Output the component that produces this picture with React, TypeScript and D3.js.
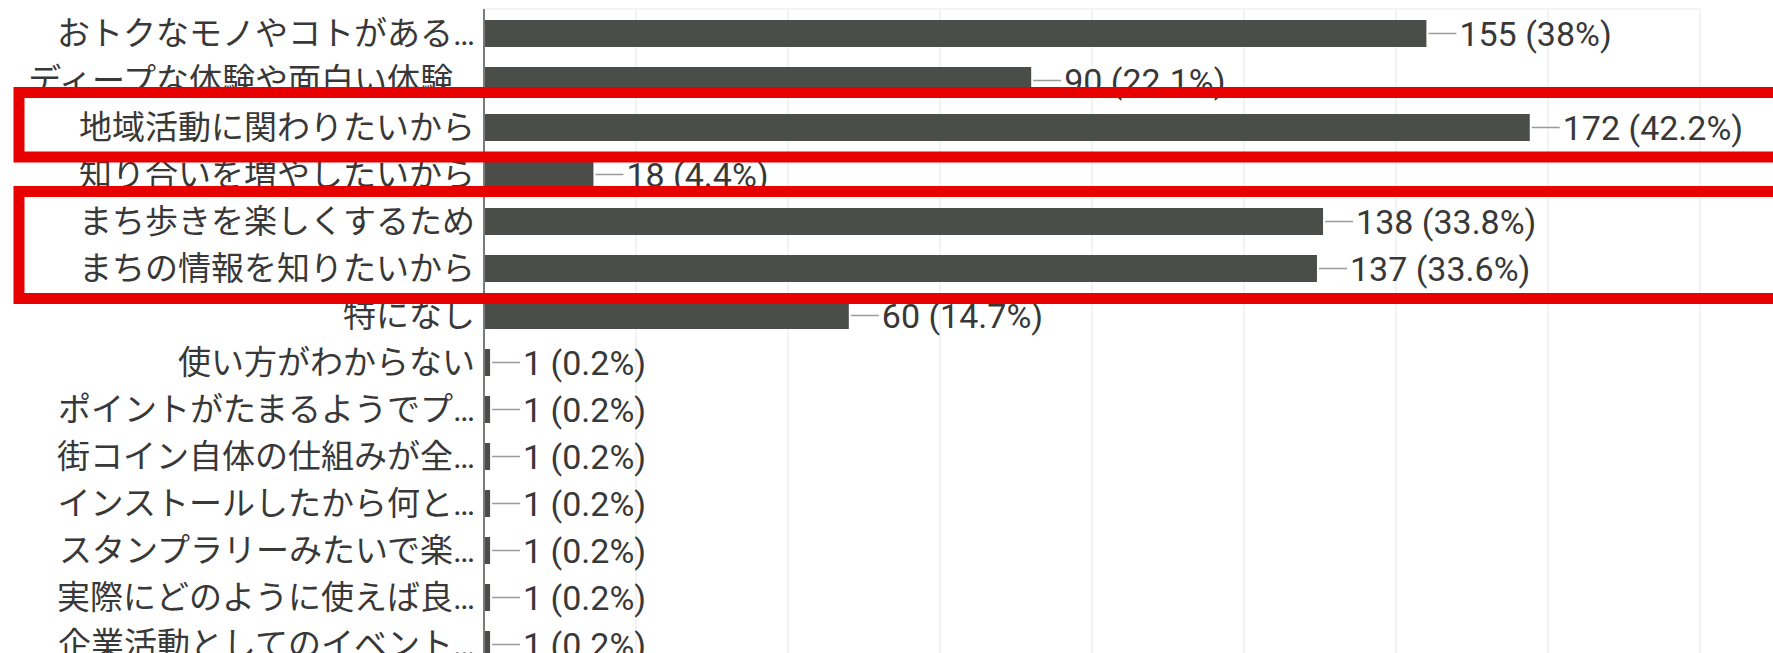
import React from "react";
import * as d3 from "d3";

const categories = [
  "おトクなモノやコトがある…",
  "ディープな体験や面白い体験…",
  "地域活動に関わりたいから",
  "知り合いを増やしたいから",
  "まち歩きを楽しくするため",
  "まちの情報を知りたいから",
  "特になし",
  "使い方がわからない",
  "ポイントがたまるようでプ…",
  "街コイン自体の仕組みが全…",
  "インストールしたから何と…",
  "スタンプラリーみたいで楽…",
  "実際にどのように使えば良…",
  "企業活動としてのイベント…",
];
const values = [155, 90, 172, 18, 138, 137, 60, 1, 1, 1, 1, 1, 1, 1];
const percents = ["38%", "22.1%", "42.2%", "4.4%", "33.8%", "33.6%", "14.7%", "0.2%", "0.2%", "0.2%", "0.2%", "0.2%", "0.2%", "0.2%"];
const gridTicks = [25, 50, 75, 100, 125, 150, 175, 200];
// highlighted row ranges (first, last index)
const highlightFirst = [2, 4];
const highlightLast = [2, 5];

const W = 1773;
const H = 653;
const axisX = 484;
const top = 10;
const step = 47;

export default function App() {
  const x = d3.scaleLinear().domain([0, 200]).range([axisX, axisX + 200 * 6.08]);
  const y = d3
    .scaleBand<string>()
    .domain(categories)
    .range([top, top + categories.length * step])
    .paddingInner(0.4255)
    .paddingOuter(0.2128);
  const bw = y.bandwidth();
  const cy = (i: number) => (y(categories[i]) as number) + bw / 2;
  const font = "Roboto, 'Noto Sans CJK JP', sans-serif";

  const rectPads = [
    { t: 35, b: 29.5 },
    { t: 30, b: 30 },
  ];

  return (
    <svg
      width={W}
      height={H}
      style={{ position: "absolute", left: 0, top: 0, background: "#fff" }}
    >
      <rect x={0} y={0} width={W} height={H} fill="#fff" />
      {/* grid */}
      <line x1={axisX} x2={x(200)} y1={top - 1} y2={top - 1} stroke="#efefef" strokeWidth={1.5} />
      {gridTicks.map((t) => (
        <line key={t} x1={x(t)} x2={x(t)} y1={top - 1} y2={H} stroke="#efefef" strokeWidth={1.5} />
      ))}
      {/* bars */}
      {categories.map((c, i) => (
        <rect key={c} x={x(0)} y={y(c) as number} width={x(values[i]) - x(0)} height={bw} fill="#4b4d48" />
      ))}
      {/* axis */}
      <line x1={axisX} x2={axisX} y1={top - 1} y2={H} stroke="#7a7a7a" strokeWidth={2} />
      {/* category labels */}
      {categories.map((c, i) => (
        <text
          key={c}
          x={axisX - 9}
          y={cy(i)}
          dy="0.36em"
          textAnchor="end"
          fontFamily={font}
          fontSize={33}
          fill="#383838"
        >
          {c}
        </text>
      ))}
      {/* value labels */}
      {categories.map((c, i) => {
        const ex = x(values[i]);
        return (
          <g key={c}>
            <line x1={ex + 2} x2={ex + 30} y1={cy(i)} y2={cy(i)} stroke="#9a9a9a" strokeWidth={1.5} />
            <text
              x={ex + 33}
              y={cy(i)}
              dy="0.36em"
              fontFamily={font}
              fontSize={34}
              fill="#383838"
            >
              {`${values[i]} (${percents[i]})`}
            </text>
          </g>
        );
      })}
      {/* highlight boxes */}
      {highlightFirst.map((f, k) => {
        const y0 = cy(f) - rectPads[k].t;
        const y1 = cy(highlightLast[k]) + rectPads[k].b;
        return (
          <rect
            key={k}
            x={19}
            y={y0}
            width={1800}
            height={y1 - y0}
            fill="none"
            stroke="#e60000"
            strokeWidth={11}
          />
        );
      })}
    </svg>
  );
}
